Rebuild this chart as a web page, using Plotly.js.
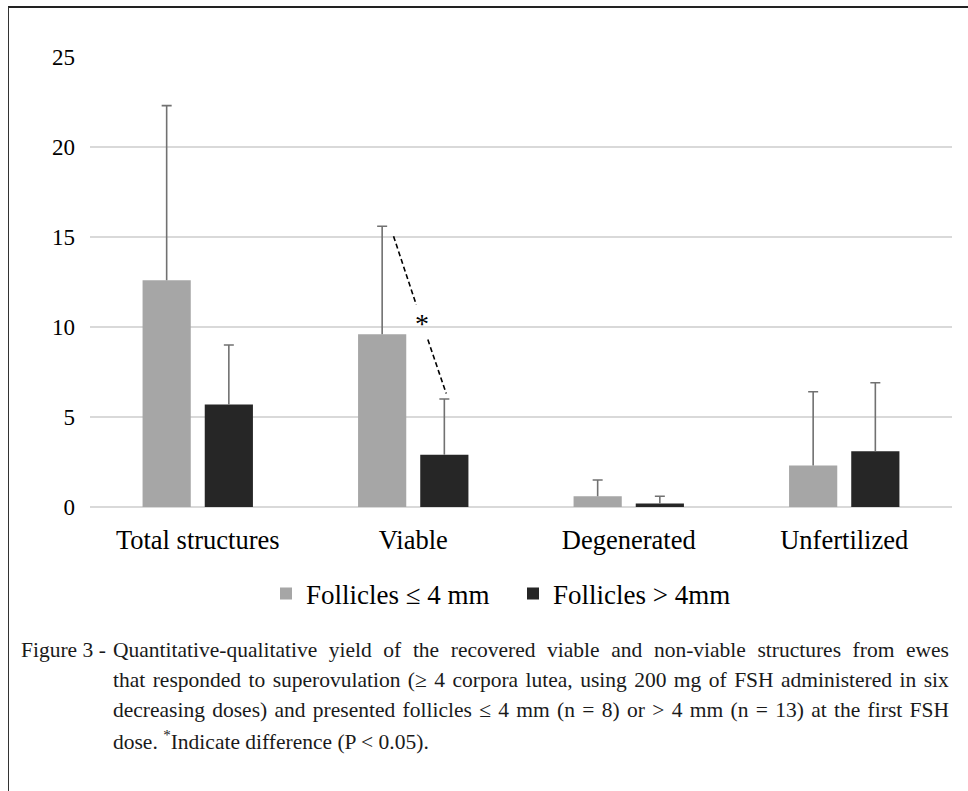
<!DOCTYPE html>
<html>
<head>
<meta charset="utf-8">
<script src="https://cdn.plot.ly/plotly-3.0.1.min.js"></script>
<style>
html,body{margin:0;padding:0;background:#fff;}
#wrap{position:relative;width:968px;height:791px;}
#chart{width:968px;height:791px;}
#frame{position:absolute;left:8px;top:6px;right:0;bottom:0;border-top:2px solid #222;border-left:1.5px solid #333;pointer-events:none;}
</style>
</head>
<body>
<div id="wrap">
<div id="chart"></div>
<div id="frame"></div>
</div>
<script>
const categories = ["Total structures", "Viable", "Degenerated", "Unfertilized"];
const seriesNames = ["Follicles \u2264 4 mm", "Follicles > 4mm"];
const smallMean = [12.6, 9.6, 0.6, 2.3];
const smallSD   = [9.7, 6.0, 0.9, 4.1];
const largeMean = [5.7, 2.9, 0.2, 3.1];
const largeSD   = [3.3, 3.1, 0.4, 3.8];
const yTicks = [0, 5, 10, 15, 20, 25];
const captionLabel = "Figure 3 -";
const captionLines = [
  "Quantitative-qualitative yield of the recovered viable and non-viable structures from ewes",
  "that responded to superovulation (\u2265 4 corpora lutea, using 200 mg of FSH administered in six",
  "decreasing doses) and presented follicles \u2264 4 mm (n = 8) or > 4 mm (n = 13) at the first FSH",
  "dose. <sup>*</sup>Indicate difference (P < 0.05)."
];

const W = 968, H = 791;
const L = 90, R = 16, T = 57, B = 284;
const pw = W - L - R, ph = H - T - B;
const px2x = px => (px - L) / pw;
const py2y = py => (H - B - py) / ph;

const serif = "Liberation Serif, Times New Roman, serif";

function barTrace(name, y, sd, color) {
  return {
    type: 'bar', name: name, x: categories, y: y,
    marker: {color: color, line: {width: 0}},
    error_y: {type: 'data', array: sd, arrayminus: sd.map(() => 0), symmetric: false,
              color: '#717171', thickness: 1.6, width: 5},
    hoverinfo: 'none'
  };
}

const data = [
  barTrace(seriesNames[0], smallMean, smallSD, '#a6a6a6'),
  barTrace(seriesNames[1], largeMean, largeSD, '#262626')
];

const capFont = {family: serif, size: 21.5, color: '#1a1a1a'};
const annotations = [
  {xref: 'x', yref: 'y', x: 1.042, y: 10.2, text: '*', showarrow: false,
   font: {family: serif, size: 28, color: '#000'}, xanchor: 'center', yanchor: 'middle'},
  {xref: 'paper', yref: 'paper', x: px2x(19), y: py2y(650), xanchor: 'left', yanchor: 'middle',
   text: captionLabel, showarrow: false, font: capFont}
];
const capY = [650, 680, 710, 740];
captionLines.forEach((t, i) => {
  annotations.push({xref: 'paper', yref: 'paper', x: px2x(111), y: py2y(capY[i]),
    xanchor: 'left', yanchor: 'middle', text: t, showarrow: false, align: 'left', font: capFont});
});

const shapes = [
  {type: 'line', xref: 'x', yref: 'y', x0: 0.9086, y0: 15.04, x1: 1.0139, y1: 11.24,
   line: {color: '#000', width: 1.6, dash: '5px,3px'}},
  {type: 'line', xref: 'x', yref: 'y', x0: 1.0677, y0: 9.30, x1: 1.1531, y1: 6.30,
   line: {color: '#000', width: 1.6, dash: '5px,3px'}}
];

const layout = {
  width: W, height: H,
  margin: {l: L, r: R, t: T, b: B, pad: 0},
  paper_bgcolor: '#fff', plot_bgcolor: '#fff',
  font: {family: serif, color: '#000'},
  barmode: 'group', bargap: 0.423, bargroupgap: 0.225,
  showlegend: true,
  legend: {orientation: 'h', x: px2x(513), xanchor: 'center', y: py2y(594), yanchor: 'middle',
           font: {family: serif, size: 27, color: '#000'}, entrywidth: 202, entrywidthmode: 'pixels',
           tracegroupgap: 0},
  xaxis: {type: 'category', showgrid: false, zeroline: false, showline: false, ticks: '',
          tickfont: {family: serif, size: 26.5, color: '#000'}, ticklabelstandoff: 14, fixedrange: true},
  yaxis: {range: [0, 25], tickvals: yTicks, ticktext: yTicks.map(String), showgrid: true,
          gridcolor: '#d9d9d9', gridwidth: 1.3, zeroline: true, zerolinecolor: '#d9d9d9', zerolinewidth: 1.5,
          showline: false, ticks: '', tickfont: {family: serif, size: 23, color: '#000'},
          ticklabelstandoff: 14, fixedrange: true},
  annotations: annotations,
  shapes: shapes
};

Plotly.newPlot('chart', data, layout, {displayModeBar: false, staticPlot: true}).then(gd => {
  // drop the lower cap of one-sided error bars (hidden under bar top in the original)
  gd.querySelectorAll('g.errorbar path').forEach(p => {
    const d = p.getAttribute('d') || '';
    p.setAttribute('d', d.replace(/m-[\d.]+,0h[\d.]+\s*$/, ''));
  });
  // justify the first three caption lines to the right margin
  const texts = gd.querySelectorAll('.annotation text.annotation-text');
  const rightEdge = 949;
  texts.forEach((t, i) => {
    if (i < 2 || i > 4) return;
    const r = t.getBoundingClientRect();
    const spaces = (t.textContent.match(/ /g) || []).length;
    if (spaces > 0 && r.right < rightEdge) {
      t.style.wordSpacing = ((rightEdge - r.right) / spaces) + 'px';
    }
  });
});
</script>
</body>
</html>
